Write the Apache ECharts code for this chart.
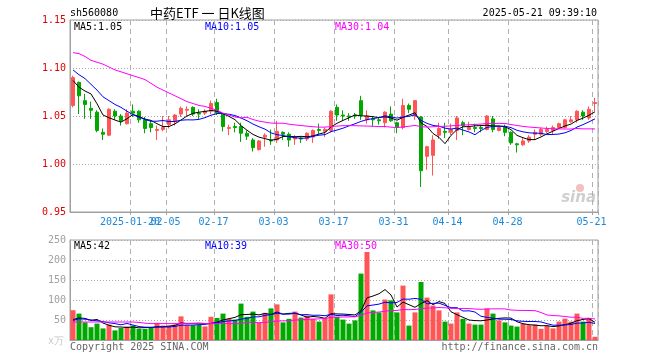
<!DOCTYPE html>
<html><head><meta charset="utf-8">
<script src="https://cdn.jsdelivr.net/npm/echarts@6/dist/echarts.min.js"></script>
<style>html,body{margin:0;padding:0;background:#fff}#c{width:660px;height:360px}</style>
</head><body><div id="c"></div>
<script>
// ---------- data ----------
const dates = [
 '2025-01-06','2025-01-07','2025-01-08','2025-01-09','2025-01-10','2025-01-13','2025-01-14','2025-01-15','2025-01-16','2025-01-17',
 '2025-01-20','2025-01-21','2025-01-22','2025-01-23','2025-01-24','2025-01-27',
 '2025-02-05','2025-02-06','2025-02-07','2025-02-10','2025-02-11','2025-02-12','2025-02-13','2025-02-14','2025-02-17','2025-02-18',
 '2025-02-19','2025-02-20','2025-02-21','2025-02-24','2025-02-25','2025-02-26','2025-02-27','2025-02-28',
 '2025-03-03','2025-03-04','2025-03-05','2025-03-06','2025-03-07','2025-03-10','2025-03-11','2025-03-12','2025-03-13','2025-03-14',
 '2025-03-17','2025-03-18','2025-03-19','2025-03-20','2025-03-21','2025-03-24','2025-03-25','2025-03-26','2025-03-27','2025-03-28','2025-03-31',
 '2025-04-01','2025-04-02','2025-04-03','2025-04-07','2025-04-08','2025-04-09','2025-04-10','2025-04-11','2025-04-14','2025-04-15',
 '2025-04-16','2025-04-17','2025-04-18','2025-04-21','2025-04-22','2025-04-23','2025-04-24','2025-04-25','2025-04-28','2025-04-29','2025-04-30',
 '2025-05-06','2025-05-07','2025-05-08','2025-05-09','2025-05-12','2025-05-13','2025-05-14','2025-05-15','2025-05-16','2025-05-19','2025-05-20','2025-05-21'
];
const opens = [
 1.061,1.085,1.066,1.058,1.054,1.033,1.030,1.055,1.050,1.042,
 1.055,1.055,1.046,1.042,1.035,1.036,1.041,1.044,1.052,1.056,
 1.059,1.053,1.053,1.055,1.064,1.052,1.037,1.039,1.039,1.032,
 1.025,1.015,1.028,1.025,1.025,1.033,1.031,1.026,1.027,1.026,
 1.028,1.036,1.034,1.035,1.059,1.051,1.050,1.051,1.066,1.046,
 1.047,1.046,1.043,1.052,1.043,1.038,1.061,1.050,1.049,1.008,
 1.009,1.030,1.034,1.033,1.035,1.043,1.036,1.038,1.038,1.036,
 1.047,1.035,1.039,1.033,1.021,1.020,1.024,1.031,1.031,1.034,
 1.035,1.038,1.038,1.044,1.046,1.054,1.048,1.063
];
const closes = [
 1.090,1.071,1.062,1.056,1.035,1.031,1.057,1.050,1.045,1.053,
 1.053,1.046,1.037,1.038,1.036,1.038,1.046,1.051,1.058,1.057,
 1.052,1.052,1.055,1.063,1.053,1.039,1.038,1.038,1.032,1.029,
 1.017,1.024,1.030,1.024,1.034,1.031,1.025,1.028,1.026,1.032,
 1.035,1.035,1.036,1.055,1.051,1.050,1.049,1.050,1.051,1.050,
 1.046,1.045,1.054,1.045,1.038,1.061,1.057,1.066,0.993,1.018,
 1.025,1.037,1.033,1.036,1.048,1.040,1.038,1.037,1.037,1.050,
 1.036,1.038,1.033,1.022,1.020,1.024,1.028,1.033,1.036,1.036,
 1.038,1.042,1.046,1.046,1.055,1.050,1.057,1.064
];
const lows = [
 1.059,1.052,1.047,1.047,1.033,1.025,1.029,1.046,1.040,1.041,
 1.049,1.043,1.032,1.033,1.025,1.034,1.037,1.040,1.049,1.050,
 1.050,1.047,1.051,1.052,1.051,1.034,1.030,1.033,1.023,1.025,
 1.013,1.014,1.018,1.020,1.022,1.025,1.018,1.020,1.022,1.024,
 1.022,1.031,1.028,1.033,1.045,1.045,1.045,1.047,1.046,1.042,
 1.039,1.041,1.038,1.044,1.032,1.036,1.053,1.046,0.976,0.994,
 0.988,1.026,1.027,1.030,1.025,1.030,1.035,1.033,1.033,1.035,
 1.033,1.034,1.029,1.020,1.012,1.019,1.022,1.025,1.029,1.032,
 1.031,1.037,1.037,1.043,1.043,1.046,1.046,1.055
];
const highs = [
 1.092,1.086,1.073,1.065,1.056,1.037,1.058,1.057,1.052,1.057,
 1.062,1.056,1.049,1.045,1.040,1.050,1.050,1.052,1.060,1.060,
 1.060,1.057,1.057,1.066,1.068,1.053,1.041,1.043,1.043,1.035,
 1.027,1.025,1.032,1.036,1.045,1.034,1.033,1.030,1.029,1.033,
 1.036,1.042,1.038,1.056,1.062,1.056,1.053,1.053,1.071,1.056,
 1.050,1.049,1.055,1.060,1.044,1.068,1.063,1.066,1.050,1.019,
 1.030,1.043,1.043,1.042,1.050,1.045,1.044,1.042,1.040,1.051,
 1.050,1.040,1.041,1.034,1.022,1.027,1.030,1.036,1.038,1.039,
 1.040,1.043,1.047,1.050,1.056,1.056,1.060,1.069
];
const volumes = [
 74.5,66,44,32,41,29,38.5,24,30,34,
 36,28,28,30,43,36,36,38.5,59,38,
 37,38,34,58,55,66,53,51,91,58,
 71,43,68,79,89,44,53,71,56,61,
 53,46,55,114,58,51,41,49,166,220,
 74,69,101,99,69,136,36,69,145,106,
 86,74,46,41,69,53,41,38.5,38.5,79,
 66,49,44,36,33.5,41,37,38.5,28,35,
 29,46,53.5,46,66,46,55,8
];
// moving-average values before enough history exists
const ma5Head  = [1.087,1.080,1.076,1.073];
const ma10Head = [1.098,1.093,1.089,1.083,1.077,1.070,1.066,1.062,1.059];
const ma30Head = [1.116,1.115,1.112,1.108,1.106,1.104,1.101,1.098,1.096,1.094,1.092,1.090,1.088,1.084,1.080,
                  1.077,1.074,1.071,1.068,1.065,1.063,1.061,1.060,1.058,1.056,1.053,1.051,1.049,1.048];
const vma5Head  = [51,55,54,49];
const vma10Head = [49,53,52,50,48,46,43,41,38];
const vma30Head = [45,45,45,45,45,45,45,45,45,45,45,44,42,41,41,41,41,41,41,41,41,41,41,41,41,41,41,41,41];

const tickDates  = ['2025-01-20','2025-02-05','2025-02-17','2025-03-03','2025-03-17','2025-03-31','2025-04-14','2025-04-28','2025-05-21'];
const tickLabels = ['2025-01-20','02-05','02-17','03-03','03-17','03-31','04-14','04-28','05-21'];
const priceTicks = {min: 0.95, max: 1.15, step: 0.05};
const volTicks = {min: 0, max: 250, step: 50};
const priceLegend = ['MA5:1.05','MA10:1.05','MA30:1.04'];
const volLegend = ['MA5:42','MA10:39','MA30:50'];

// ---------- helpers ----------
function movingAvg(values, n, head) {
  return values.map((v, i) => {
    if (i < n - 1) return head[i];
    let s = 0;
    for (let k = i - n + 1; k <= i; k++) s += values[k];
    return +(s / n).toFixed(4);
  });
}
const UP = '#ff5555', DOWN = '#00a800';
const MONO = '"DejaVu Sans Mono", "Liberation Mono", monospace';
const XLBL = '#1e88d8';
const candles = dates.map((d, i) => [opens[i], closes[i], lows[i], highs[i]]);
const isTick = (idx, val) => tickDates.indexOf(val) >= 0;
const gridLine = '#a0a0a0';

function xAxisCfg(gridIndex, showLabel) {
  return {
    type: 'category', gridIndex, data: dates, boundaryGap: true,
    axisLine: {show: true, lineStyle: {color: gridLine, width: 1}},
    axisTick: {show: showLabel, interval: isTick, length: 3, lineStyle: {color: gridLine}},
    axisLabel: {
      show: showLabel, interval: isTick, hideOverlap: false, color: XLBL, fontFamily: MONO, fontSize: 10, margin: 5,
      padding: [0, 7, 0, 0],
      // the first (long) label overlaps the next one; it is drawn separately below
      formatter: (v) => { const k = tickDates.indexOf(v); return k > 0 ? tickLabels[k] : ''; }
    },
    splitLine: {show: true, interval: isTick, lineStyle: {color: '#b0b0b0', type: [5, 4], width: 1}}
  };
}

const baseGraphic = [
  {type: 'text', x: 70, y: 13, style: {text: 'sh560080', fill: '#000', font: '10px ' + MONO, textVerticalAlign: 'middle'}},
  {type: 'text', x: 150, y: 13, style: {text: '中药ETF 一 日K线图', fill: '#000', font: '13px "Noto Sans CJK SC"', textVerticalAlign: 'middle'}},
  {type: 'text', x: 597, y: 13, style: {text: '2025-05-21 09:39:10', fill: '#000', font: '10px ' + MONO, textAlign: 'right', textVerticalAlign: 'middle'}},
  {type: 'text', x: 74, y: 27, style: {text: priceLegend[0], fill: '#000', font: '10px ' + MONO, textVerticalAlign: 'middle'}},
  {type: 'text', x: 205, y: 27, style: {text: priceLegend[1], fill: '#0000ff', font: '10px ' + MONO, textVerticalAlign: 'middle'}},
  {type: 'text', x: 335, y: 27, style: {text: priceLegend[2], fill: '#ff00ff', font: '10px ' + MONO, textVerticalAlign: 'middle'}},
  {type: 'text', x: 74, y: 246, style: {text: volLegend[0], fill: '#000', font: '10px ' + MONO, textVerticalAlign: 'middle'}},
  {type: 'text', x: 205, y: 246, style: {text: volLegend[1], fill: '#0000ff', font: '10px ' + MONO, textVerticalAlign: 'middle'}},
  {type: 'text', x: 335, y: 246, style: {text: volLegend[2], fill: '#ff00ff', font: '10px ' + MONO, textVerticalAlign: 'middle'}},
  {type: 'text', x: 64, y: 341, style: {text: 'x万', fill: '#c8c8c8', font: '10px ' + MONO, textAlign: 'right', textVerticalAlign: 'middle'}},
  {type: 'text', x: 70, y: 347, style: {text: 'Copyright 2025 SINA.COM', fill: '#666', font: '10px ' + MONO, textVerticalAlign: 'middle'}},
  {type: 'text', x: 598, y: 347, style: {text: 'http://finance.sina.com.cn', fill: '#666', font: '10px ' + MONO, textAlign: 'right', textVerticalAlign: 'middle'}},
  {type: 'circle', shape: {cx: 580, cy: 188, r: 4}, style: {fill: '#f3c0c0'}, z: 0},
  {type: 'text', x: 596, y: 198, z: 0, style: {text: 'sina', fill: '#cfcfcf', font: 'italic bold 15px "DejaVu Sans"', textAlign: 'right', textVerticalAlign: 'middle'}}
];

const chart = echarts.init(document.getElementById('c'), null, {renderer: 'canvas'});
const option = {
  animation: false,
  backgroundColor: '#fff',
  grid: [
    {left: 70, top: 20, width: 528, height: 192, show: true, borderColor: gridLine, borderWidth: 1},
    {left: 70, top: 240, width: 528, height: 100, show: true, borderColor: gridLine, borderWidth: 1}
  ],
  xAxis: [xAxisCfg(0, true), xAxisCfg(1, false)],
  yAxis: [
    {
      type: 'value', gridIndex: 0, min: priceTicks.min, max: priceTicks.max, interval: priceTicks.step,
      axisLine: {show: true, lineStyle: {color: gridLine}}, axisTick: {show: false},
      axisLabel: {color: '#e00000', fontFamily: MONO, fontSize: 10, margin: 4, formatter: v => v.toFixed(2)},
      splitLine: {show: true, lineStyle: {color: '#a8a8a8', type: [1, 2], width: 1}}
    },
    {
      type: 'value', gridIndex: 1, min: volTicks.min, max: volTicks.max, interval: volTicks.step,
      axisLine: {show: true, lineStyle: {color: gridLine}}, axisTick: {show: false},
      axisLabel: {color: '#a0a0a0', fontFamily: MONO, fontSize: 10, margin: 4, formatter: v => v === 0 ? '' : String(v)},
      splitLine: {show: true, lineStyle: {color: '#a8a8a8', type: [1, 2], width: 1}}
    }
  ],
  series: [
    {
      type: 'candlestick', xAxisIndex: 0, yAxisIndex: 0, data: candles, barWidth: 4,
      itemStyle: {color: UP, color0: DOWN, borderColor: UP, borderColor0: DOWN, borderWidth: 1}
    },
    {type: 'line', xAxisIndex: 0, yAxisIndex: 0, data: movingAvg(closes, 5, ma5Head), showSymbol: false, lineStyle: {color: '#000', width: 1}, z: 3},
    {type: 'line', xAxisIndex: 0, yAxisIndex: 0, data: movingAvg(closes, 10, ma10Head), showSymbol: false, lineStyle: {color: '#0000ff', width: 1}, z: 3},
    {type: 'line', xAxisIndex: 0, yAxisIndex: 0, data: movingAvg(closes, 30, ma30Head), showSymbol: false, lineStyle: {color: '#ff00ff', width: 1}, z: 3},
    {
      type: 'bar', xAxisIndex: 1, yAxisIndex: 1, data: volumes, barWidth: 5,
      itemStyle: {color: p => closes[p.dataIndex] >= opens[p.dataIndex] ? UP : DOWN}
    },
    {type: 'line', xAxisIndex: 1, yAxisIndex: 1, data: movingAvg(volumes, 5, vma5Head), showSymbol: false, lineStyle: {color: '#000', width: 1}, z: 3},
    {type: 'line', xAxisIndex: 1, yAxisIndex: 1, data: movingAvg(volumes, 10, vma10Head), showSymbol: false, lineStyle: {color: '#0000ff', width: 1}, z: 3},
    {type: 'line', xAxisIndex: 1, yAxisIndex: 1, data: movingAvg(volumes, 30, vma30Head), showSymbol: false, lineStyle: {color: '#ff00ff', width: 1}, z: 3}
  ],
  graphic: baseGraphic
};
chart.setOption(option);

// first date label: placed through the axis scale (left edge of its band), drawn even though it overlaps
const firstX = chart.convertToPixel({xAxisIndex: 0}, tickDates[0]) - 3;
const firstY = chart.convertToPixel({yAxisIndex: 0}, priceTicks.min) + 10;
chart.setOption({graphic: baseGraphic.concat([
  {type: 'text', x: firstX, y: firstY, style: {text: tickLabels[0], fill: XLBL, font: '10px ' + MONO, textAlign: 'center', textVerticalAlign: 'middle'}}
])});
</script></body></html>
